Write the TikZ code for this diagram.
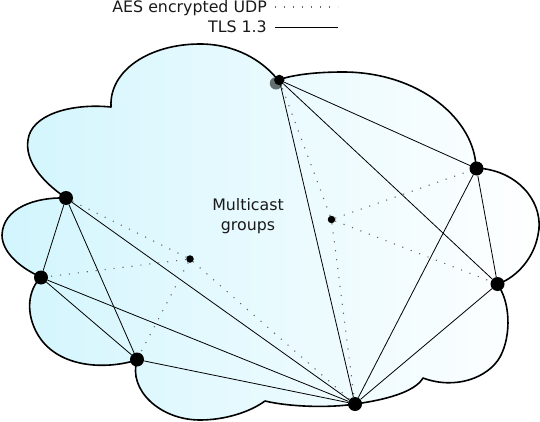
\documentclass[tikz,border=0pt]{standalone}
\usepackage{fontspec}
\setmainfont{DejaVu Sans}
\definecolor{cloudL}{RGB}{210,245,253}
\definecolor{shadowgray}{RGB}{100,112,112}
\begin{document}
\begin{tikzpicture}[x=1pt,y=-1pt,
  cloudline/.style={line width=1.6pt, draw=black, line join=round},
  tls/.style={line width=0.8pt, black},
  udp/.style={line width=1.1pt, black!60, dash pattern=on 1.1pt off 7.9pt},
  host/.style={circle, fill=black, inner sep=0pt, minimum size=14pt},
  hub/.style={circle, fill=black, inner sep=0pt, minimum size=7.5pt},
  lbl/.style={font=\fontsize{15.8}{20}\selectfont, inner sep=0pt, text=black!90}]

\useasboundingbox (0,0) rectangle (540,422);

% cloud
\shadedraw[left color=cloudL, right color=white, cloudline]
  (111,107) .. controls (109,70) and (150,44) .. (200,44)
  .. controls (235,44) and (262,60) .. (278,80)
  .. controls (295,74) and (320,72) .. (343,72)
  .. controls (420,72) and (475,120) .. (476,168)
  .. controls (520,170) and (545,205) .. (538,235)
  .. controls (533,262) and (512,280) .. (497,284)
  .. controls (510,300) and (512,335) .. (500,357)
  .. controls (488,378) and (455,390) .. (423,378)
  .. controls (415,392) and (385,400) .. (355,404)
  .. controls (330,408) and (290,407) .. (265,401)
  .. controls (250,412) and (225,420) .. (200,420)
  .. controls (160,420) and (128,390) .. (137,360)
  .. controls (105,370) and (58,368) .. (38,335)
  .. controls (25,313) and (28,290) .. (41,277)
  .. controls (20,268) and (2,252) .. (2,235)
  .. controls (3,208) and (35,197) .. (66,198)
  .. controls (40,180) and (25,160) .. (28,140)
  .. controls (31,115) and (70,103) .. (111,107)
  -- cycle;

% legend
\node[lbl, anchor=base east] (legudp) at (267,12.7) {AES encrypted UDP};
\node[lbl, anchor=base east] (legtls) at (267,33) {TLS 1.3};
\coordinate (u1) at (275,7);
\coordinate (u2) at (338,7);
\coordinate (t1) at (275,27);
\coordinate (t2) at (338,27);
\draw[udp] (u1) -- (u2);
\draw[tls] (t1) -- (t2);

% label
\node[lbl, align=center] (mc) at (248,216.6) {Multicast\\groups};

% nodes
\node[circle, fill=shadowgray, inner sep=0pt, minimum size=12.5pt] (Ash) at (276,83.3) {};
\node[host, minimum size=10.5pt] (A) at (279.3,80) {};
\node[host] (B) at (476.5,168.5) {};
\node[host] (C) at (497.5,284) {};
\node[host] (D) at (355,404) {};
\node[host] (E) at (137,359.5) {};
\node[host] (F) at (41,277.5) {};
\node[host] (G) at (66,198) {};
\node[hub] (P1) at (190,259) {};
\node[hub] (P2) at (331.5,219.5) {};

% TLS links, left group
\draw[tls] (G) -- (F);
\draw[tls] (G) -- (E);
\draw[tls] (G) -- (D);
\draw[tls] (F) -- (E);
\draw[tls] (F) -- (D);
\draw[tls] (E) -- (D);
% TLS links, right group
\draw[tls] (A) -- (B);
\draw[tls] (A) -- (C);
\draw[tls] (A) -- (D);
\draw[tls] (B) -- (C);
\draw[tls] (B) -- (D);
\draw[tls] (C) -- (D);

% UDP multicast
\draw[udp] (P1) -- (G);
\draw[udp] (P1) -- (F);
\draw[udp] (P1) -- (E);
\draw[udp] (P1) -- (D);
\draw[udp] (P2) -- (A);
\draw[udp] (P2) -- (B);
\draw[udp] (P2) -- (C);
\draw[udp] (P2) -- (D);
\end{tikzpicture}
\end{document}
